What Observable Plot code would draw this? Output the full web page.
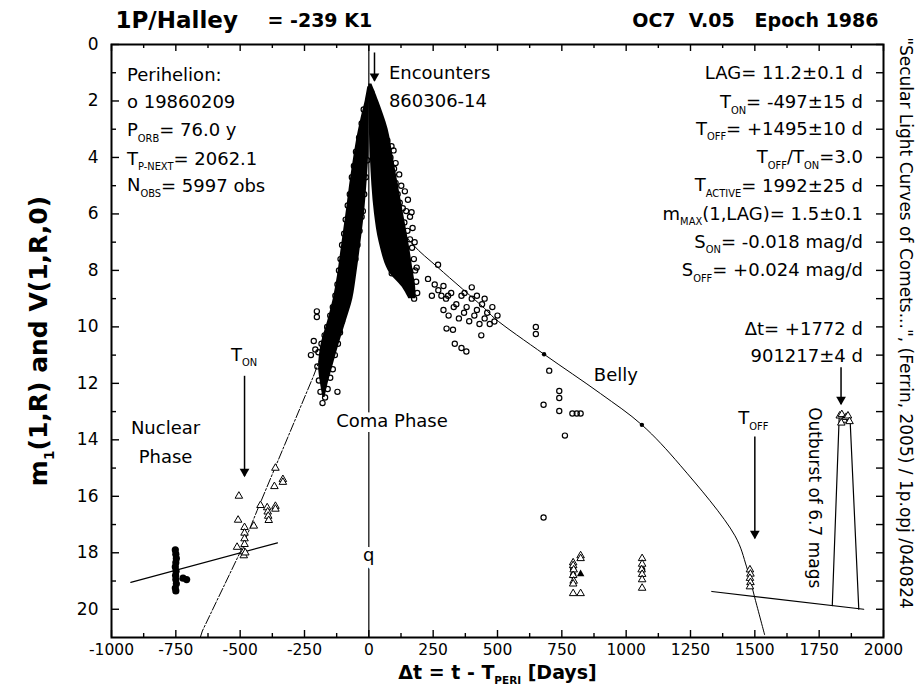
<!DOCTYPE html>
<html>
<head>
<meta charset="utf-8">
<script src="https://cdn.jsdelivr.net/npm/d3@7"></script>
<script src="https://cdn.jsdelivr.net/npm/@observablehq/plot@0.6"></script>
<style>
  body { margin: 0; background: #fff; }
  svg { display: block; }
</style>
</head>
<body>
<div id="chart"></div>
<script>
// ---------------- data ----------------
const xMajor = [-1000, -750, -500, -250, 0, 250, 500, 750, 1000, 1250, 1500, 1750, 2000];
const xMinor = [-875, -625, -375, -125, 125, 375, 625, 875, 1125, 1375, 1625, 1875];
const yMajor = [0, 2, 4, 6, 8, 10, 12, 14, 16, 18, 20];
const yMinor = [1, 3, 5, 7, 9, 11, 13, 15, 17, 19];

// dense pre-perihelion band (envelope of overlapping observations)
const preBandY  = [1.5, 2.0, 2.6, 3.4, 4.2, 5.0, 5.8, 6.6, 7.4, 8.2, 9.0, 9.8, 10.6, 11.4, 12.0, 12.5];
const preBandX1 = [-4, -14, -30, -48, -62, -75, -86, -98, -110, -122, -138, -160, -185, -195, -188, -178];
const preBandX2 = [6, 2, 0, 0, -2, -8, -15, -25, -36, -48, -62, -88, -115, -140, -158, -170];
// dense post-perihelion band
const postBandY  = [1.4, 2.0, 3.0, 4.0, 5.0, 6.0, 7.0, 8.0, 8.6, 9.0];
const postBandX1 = [0, 0, 2, 6, 12, 22, 40, 75, 130, 155];
const postBandX2 = [12, 38, 75, 95, 115, 135, 155, 172, 182, 183];

// open circles: m1(1,R) observations
const circX = [-20,-28,-38,-50,-58,-66,-74,-82,-90,-96,-104,-110,-116,-122,-130,-140,-150,-162,-172,-184,-196,-208,-214,-200,-194,-188,-180,-170,-160,-150,-140,-132,-120,-112,-104,-95,-84,-72,-62,-52,-44,-36,-28,-23,-18,-12,-6,-202,-202,-122,-225,-175,
  10,25,40,55,72,88,96,84,98,104,112,120,132,145,166,138,150,160,168,175,180,184,188,176,165,150,135,118,100,89,76,64,54,46,38,30,24,18,60,80,95,110,125,
  104,118,126,140,152,160,170,178,186,
  256,270,282,290,300,308,320,330,340,350,360,370,372,380,390,400,400,410,420,420,430,440,450,450,460,470,480,488,500,290,310,302,327,334,360,379,437,269,230,245,
  649,649,701,740,740,740,679,791,808,823,762,679,794,794,1062];
const circY = [2.3,2.8,3.3,3.8,4.3,4.7,5.3,5.7,6.2,6.7,7.1,7.6,8.0,8.5,8.9,9.3,9.6,10.0,10.3,10.6,10.9,10.8,10.5,11.4,11.9,12.3,12.7,12.5,12.2,11.8,11.5,11.0,10.6,10.2,9.8,9.4,9.0,8.6,8.1,7.6,7.1,6.6,6.1,5.9,5.3,4.7,4.1,9.45,9.65,12.3,11.0,11.6,
  1.7,2.2,2.6,3.0,3.4,3.6,3.75,4.0,4.4,4.9,5.3,5.6,5.8,5.9,5.94,6.3,6.6,6.9,7.2,7.6,8.0,8.4,8.8,9.0,8.8,8.5,8.2,7.9,7.7,8.1,7.45,7.1,6.7,6.3,5.8,5.2,4.6,3.9,5.5,6.0,6.5,7.0,7.3,
  4.2,4.6,5.0,5.2,5.5,6.1,6.5,7.0,7.9,
  8.5,8.7,8.9,8.55,9.0,8.9,8.8,9.3,9.2,9.7,8.9,9.5,8.8,9.3,9.8,9.0,8.6,9.6,9.4,8.9,9.9,9.2,9.7,9.0,9.5,9.9,9.3,9.81,9.6,9.4,9.6,10.06,10.1,10.6,10.75,10.87,10.3,7.8,8.3,8.9,
  10.0,10.25,11.55,12.27,12.52,12.98,12.76,13.07,13.07,13.07,13.85,16.75,18.6,18.8,18.6];

// open triangles: V(1,R,0) observations
const triX = [-363,-334,-334,-367,-505,-421,-395,-393,-391,-389,-363,-363,-508,-447,-483,-483,-483,-483,-512,-486,-486,-480,
  794,794,796,794,796,794,794,823,823,823,1062,1062,1060,1062,1062,1062,1481,1483,1481,1483,1481,
  1830,1838,1846,1855,1862,1868,1836];
const triY = [15.0,15.4,15.5,15.65,15.99,16.32,16.4,16.55,16.7,16.85,16.35,16.45,16.84,17.05,17.1,17.3,17.5,17.7,17.8,17.96,18.1,18.0,
  18.35,18.45,18.6,18.8,19.0,19.1,19.44,18.1,18.2,19.44,18.2,18.4,18.6,18.76,18.95,19.25,18.6,18.75,18.9,19.05,19.2,
  13.15,13.1,13.3,13.2,13.15,13.35,13.4];
const triFilledX = [823];
const triFilledY = [18.75];

// filled dots: nuclear magnitudes
const nucX = [-752,-750,-748,-750,-752,-749,-751,-750,-748,-752,-750,-722,-708];
const nucY = [17.9,18.05,18.2,18.35,18.5,18.65,18.8,18.95,19.1,19.25,19.35,18.9,18.95];

// fitted lines
const nucLineX = [-925, -355];
const nucLineY = [19.05, 17.65];
const onLineX = [-655, -647, -499, -434, -215, -180];
const onLineY = [21.0, 20.77, 17.96, 16.5, 11.74, 10.9];
const bellyX = [10, 60, 120, 173, 269, 450, 488, 681, 900, 1061, 1210, 1423, 1468, 1500, 1538];
const bellyY = [1.6, 4.0, 6.4, 7.1, 7.9, 9.35, 9.69, 10.97, 12.36, 13.47, 14.9, 17.4, 18.5, 19.6, 20.9];
const bellyDotX = [681, 1061];
const bellyDotY = [10.97, 13.47];
const lateLineX = [1333, 1923];
const lateLineY = [19.37, 20.0];
const outburstX = [1801, 1828, 1870, 1904];
const outburstY = [19.87, 13.15, 13.25, 20.0];

// arrows (x, from y1 to tip y2)
const arrowX  = [22, -483, 1500, 1835];
const arrowY1 = [0.3, 11.75, 13.9, 11.45];
const arrowY2 = [1.3, 15.3, 17.5, 12.75];

// text
const leftNotes = ["Perihelion:", "o 19860209", "P_{ORB}= 76.0 y", "T_{P-NEXT}= 2062.1", "N_{OBS}= 5997 obs"];
const leftNotesY = [1.1, 2.05, 3.05, 4.05, 5.0];
const rightNotes = ["LAG= 11.2±0.1 d", "T_{ON}= -497±15 d", "T_{OFF}= +1495±10 d", "T_{OFF}/T_{ON}=3.0",
  "T_{ACTIVE}= 1992±25 d", "m_{MAX}(1,LAG)= 1.5±0.1", "S_{ON}= -0.018 mag/d", "S_{OFF}= +0.024 mag/d",
  "Δt= +1772 d", "901217±4 d"];
const rightNotesY = [1.0, 2.05, 3.0, 4.0, 5.0, 6.0, 7.0, 8.0, 10.1, 11.05];

// ---------------- build ----------------
const W = 916, H = 685, ML = 111, MR = 33, MT = 44, MB = 48;
const PW = W - ML - MR, PH = H - MT - MB;
const FONT = "DejaVu Sans";

const zip = (xs, ys) => xs.map((x, i) => ({x, y: ys[i]}));
const preBand = preBandY.map((y, i) => ({y, x1: preBandX1[i], x2: preBandX2[i]}));
const postBand = postBandY.map((y, i) => ({y, x1: postBandX1[i], x2: postBandX2[i]}));
const arrows = arrowX.map((x, i) => ({x, y1: arrowY1[i], y2: arrowY2[i]}));
const left = leftNotes.map((t, i) => ({t, y: leftNotesY[i]}));
const right = rightNotes.map((t, i) => ({t, y: rightNotesY[i]}));
const ann = (str, o) => Plot.text([str], {text: d => d, fill: "black", fontFamily: FONT, ...o});

const chart = Plot.plot({
  width: W, height: H,
  marginLeft: ML, marginRight: MR, marginTop: MT, marginBottom: MB,
  style: {fontFamily: FONT, fontSize: "16px", background: "white", color: "black"},
  x: {domain: [-1000, 2000], axis: null},
  y: {domain: [0, 21], reverse: true, axis: null},
  marks: [
    // inward ticks on all four sides
    Plot.tickX(xMajor, {x: d => d, insetTop: PH - 7, stroke: "black", strokeWidth: 1.4}),
    Plot.tickX(xMinor, {x: d => d, insetTop: PH - 4, stroke: "black", strokeWidth: 1.4}),
    Plot.tickX(xMajor, {x: d => d, insetBottom: PH - 7, stroke: "black", strokeWidth: 1.4}),
    Plot.tickX(xMinor, {x: d => d, insetBottom: PH - 4, stroke: "black", strokeWidth: 1.4}),
    Plot.tickY(yMajor, {y: d => d, insetRight: PW - 8, stroke: "black", strokeWidth: 1.4}),
    Plot.tickY(yMinor, {y: d => d, insetRight: PW - 5, stroke: "black", strokeWidth: 1.4}),
    Plot.tickY(yMajor, {y: d => d, insetLeft: PW - 7, stroke: "black", strokeWidth: 1.4}),
    Plot.tickY(yMinor, {y: d => d, insetLeft: PW - 7, stroke: "black", strokeWidth: 1.4}),
    // tick labels
    Plot.axisX(xMajor, {anchor: "bottom", tickSize: 0, tickPadding: 6, tickFormat: d => String(d), fontSize: 15.5, label: null, fontFamily: FONT}),
    Plot.axisY(yMajor, {anchor: "left", tickSize: 0, tickPadding: 13, tickFormat: d => String(d), fontSize: 17, label: null, fontFamily: FONT}),
    // perihelion line
    Plot.ruleX([0], {stroke: "black", strokeWidth: 1.2}),
    // fitted lines
    Plot.line(zip(nucLineX, nucLineY), {x: "x", y: "y", stroke: "black", strokeWidth: 1.2}),
    Plot.line(zip(onLineX, onLineY), {x: "x", y: "y", stroke: "black", strokeWidth: 1, strokeDasharray: "9,2,2,2"}),
    Plot.line(zip(bellyX, bellyY), {x: "x", y: "y", stroke: "black", strokeWidth: 1, curve: "catmull-rom"}),
    Plot.line(zip(lateLineX, lateLineY), {x: "x", y: "y", stroke: "black", strokeWidth: 1.2}),
    Plot.line(zip(outburstX, outburstY), {x: "x", y: "y", stroke: "black", strokeWidth: 1.2}),
    Plot.dot(zip(bellyDotX, bellyDotY), {x: "x", y: "y", r: 2.2, fill: "black"}),
    // dense bands
    Plot.areaX(preBand, {y: "y", x1: "x1", x2: "x2", fill: "black", curve: "catmull-rom"}),
    Plot.areaX(postBand, {y: "y", x1: "x1", x2: "x2", fill: "black", curve: "catmull-rom"}),
    // observations
    Plot.dot(zip(circX, circY), {x: "x", y: "y", r: 2.6, stroke: "black", strokeWidth: 1.2, fill: "none"}),
    Plot.dot(zip(triX, triY), {x: "x", y: "y", r: 2.8, symbol: "triangle", stroke: "black", strokeWidth: 1, fill: "white"}),
    Plot.dot(zip(triFilledX, triFilledY), {x: "x", y: "y", r: 2.8, symbol: "triangle", fill: "black"}),
    Plot.dot(zip(nucX, nucY), {x: "x", y: "y", r: 3.6, fill: "black"}),
    // arrows
    Plot.ruleX(arrows, {x: "x", y1: "y1", y2: "y2", stroke: "black", strokeWidth: 1.5}),
    Plot.dot(arrows, {x: "x", y: "y2", symbol: "triangle", rotate: 180, r: 3.6, fill: "black", dy: -5}),
    // annotations
    Plot.text(left, {x: -940, y: "y", text: "t", textAnchor: "start", fontSize: 18, fontFamily: FONT}),
    Plot.text(right, {x: 1920, y: "y", text: "t", textAnchor: "end", fontSize: 18, fontFamily: FONT}),
    ann("Encounters", {x: 78, y: 1.0, textAnchor: "start", fontSize: 18}),
    ann("860306-14", {x: 78, y: 2.0, textAnchor: "start", fontSize: 18}),
    ann("T_{ON}", {x: -485, y: 11.0, fontSize: 18}),
    ann("Nuclear", {x: -790, y: 13.6, fontSize: 18}),
    ann("Phase", {x: -790, y: 14.6, fontSize: 18}),
    ann("Coma Phase", {x: 90, y: 13.35, fontSize: 18, stroke: "white", strokeWidth: 10}),
    ann("q", {x: 0, y: 18.1, fontSize: 18, stroke: "white", strokeWidth: 8}),
    ann("Belly", {x: 960, y: 11.7, fontSize: 18}),
    ann("T_{OFF}", {x: 1494, y: 13.25, fontSize: 18}),
    ann("Outburst of 6.7 mags", {x: 1731, y: 16.05, rotate: 90, fontSize: 17}),
    ann("\"Secular Light Curves of Comets...\", (Ferrin, 2005) / 1p.opj /040824",
        {frameAnchor: "right", dx: 22, dy: -18, rotate: 90, textAnchor: "middle", lineAnchor: "middle", fontSize: 17}),
    // titles
    ann("1P/Halley", {frameAnchor: "top-left", dx: 4, dy: -24, textAnchor: "start", lineAnchor: "middle", fontWeight: "bold", fontSize: 23}),
    ann("= -239 K1", {frameAnchor: "top-left", dx: 156, dy: -24, textAnchor: "start", lineAnchor: "middle", fontWeight: "bold", fontSize: 19}),
    ann("OC7\u00a0\u00a0V.05\u00a0\u00a0\u00a0Epoch 1986", {frameAnchor: "top-right", dx: -5, dy: -24, textAnchor: "end", lineAnchor: "middle", fontWeight: "bold", fontSize: 19}),
    ann("Δt = t - T_{PERI} [Days]", {frameAnchor: "bottom", dy: 35, lineAnchor: "middle", fontWeight: "bold", fontSize: 19}),
    ann("m_{1}(1,R) and V(1,R,0)", {frameAnchor: "left", dx: -73, rotate: -90, textAnchor: "middle", lineAnchor: "middle", fontWeight: "bold", fontSize: 25}),
    Plot.frame({stroke: "black", strokeWidth: 2})
  ]
});

// turn "_{...}" markup into real subscript tspans
chart.querySelectorAll("text").forEach(t => {
  const s = t.textContent;
  if (!s.includes("_{")) return;
  t.textContent = "";
  const re = /_\{([^}]*)\}/g;
  let last = 0, m, shifted = false;
  const add = (str, sub) => {
    const ts = document.createElementNS("http://www.w3.org/2000/svg", "tspan");
    ts.textContent = str;
    if (sub) { ts.setAttribute("font-size", "55%"); ts.setAttribute("dy", "0.55em"); shifted = true; }
    else if (shifted) { ts.setAttribute("dy", "-0.3em"); shifted = false; }
    t.appendChild(ts);
  };
  while ((m = re.exec(s))) {
    if (m.index > last) add(s.slice(last, m.index), false);
    add(m[1], true);
    last = re.lastIndex;
  }
  if (last < s.length) add(s.slice(last), false);
});

document.getElementById("chart").appendChild(chart);
</script>
</body>
</html>
